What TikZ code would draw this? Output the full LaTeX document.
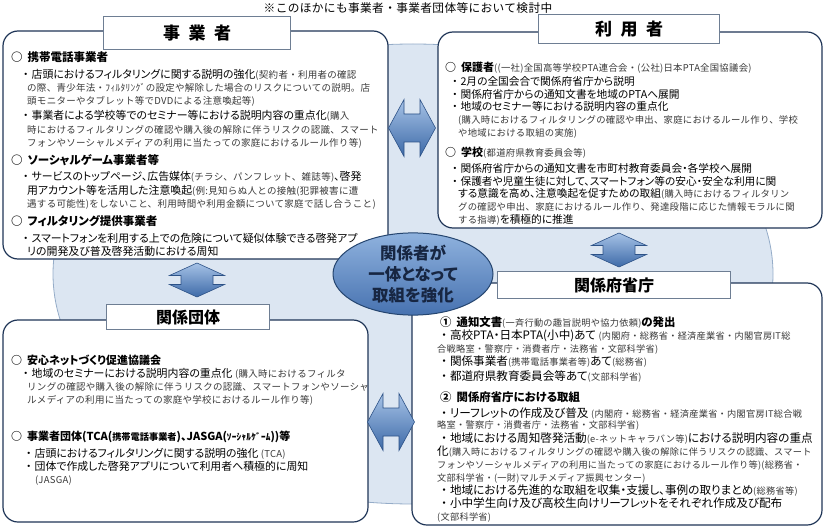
\documentclass[tikz,border=0pt]{standalone}
\usepackage{fontspec}
\setmainfont{Noto Sans CJK JP}[RawFeature=+palt]
\newfontfamily\plainjp{Noto Sans CJK JP}[LetterSpace=3]
\usepackage{xcolor}
\usepackage{tikz}
\usetikzlibrary{positioning, calc, shapes.geometric}

\definecolor{ringfill}{HTML}{DCE6F2}
\definecolor{ringedge}{HTML}{95ACC8}
\definecolor{boxedge}{HTML}{1F3557}
\definecolor{captionedge}{HTML}{6E7E93}
\definecolor{subtext}{HTML}{3A3A3A}
\definecolor{hubtop}{HTML}{8FB2DE}
\definecolor{hubbottom}{HTML}{4772B0}
\definecolor{hubedge}{HTML}{25456F}
\definecolor{hubtext}{HTML}{172642}
\definecolor{arrowhi}{HTML}{A6C2E6}
\definecolor{arrowlo}{HTML}{3D6AA8}
\definecolor{arrowedge}{HTML}{2D5287}

\newcommand{\hd}[1]{{\fontsize{\hdsize}{13}\selectfont\bfseries #1}}
\newcommand{\detail}[1]{{\plainjp\fontsize{\dsize}{13}\selectfont\color{subtext}#1}}
\newcommand{\bul}{\hspace*{\bulskip}・\hspace{3pt}}
\newcommand{\cont}{\hspace*{\contskip}}
\newcommand{\circitem}{\hd{○}\hspace{5pt}}

\begin{document}
\begin{tikzpicture}[
    x=1pt, y=-1pt,
    panel/.style={draw=boxedge, line width=1.2pt, fill=white, rounded corners=15pt, inner sep=0pt},
    caption/.style={draw=captionedge, line width=0.8pt, fill=white, inner sep=0pt, font=\bfseries\fontsize{17}{20}\selectfont},
    body/.style={anchor=north west, align=left, inner sep=0pt},
    hub/.style={ellipse, draw=hubedge, line width=1pt, top color=hubtop, bottom color=hubbottom,
      minimum width=160pt, minimum height=68pt, inner sep=0pt, align=center,
      text=hubtext, font=\bfseries\fontsize{16.5}{21}\selectfont},
    arrowbody/.style={draw=arrowedge, line width=0.6pt, top color=arrowhi, bottom color=arrowlo},
    lrarrow/.pic={\path[arrowbody] (-23.5,0) -- (-8,-28.5) -- (-8,-14) -- (8,-14) -- (8,-28.5)
      -- (23.5,0) -- (8,28.5) -- (8,14) -- (-8,14) -- (-8,28.5) -- cycle;},
    udarrow/.pic={\path[arrowbody] (0,-17) -- (27.5,-4.5) -- (16,-4.5) -- (16,4.5) -- (27.5,4.5)
      -- (0,17) -- (-27.5,4.5) -- (-16,4.5) -- (-16,-4.5) -- (-27.5,-4.5) -- cycle;}
  ]
  \useasboundingbox (0,0) rectangle (826,529);

  % background ring
  \draw[ringedge, fill=ringfill, line width=0.8pt] (413,274) ellipse [x radius=360pt, y radius=230pt];

  \node (note) at (408,8) {\plainjp\fontsize{11.7}{12}\selectfont ※このほかにも事業者・事業者団体等において検討中};

  % panels
  \node[panel, minimum width=385pt, minimum height=228pt] (jigyosha) at (195.5,145) {};
  \node[panel, minimum width=384pt, minimum height=196pt] (riyosha) at (630,130) {};
  \node[panel, minimum width=365pt, minimum height=202pt] (dantai) at (185.5,421) {};
  \node[panel, minimum width=410pt, minimum height=242pt] (fusho) at (617,404) {};

  % captions
  \node[caption, minimum width=187pt, minimum height=33pt] (jigyoshaTitle) at (197,33) {事\enspace 業\enspace 者};
  \node[caption, minimum width=181pt, minimum height=29pt] (riyoshaTitle) at (629,29) {利\enspace 用\enspace 者};
  \node[caption, minimum width=163pt, minimum height=25pt, font=\bfseries\fontsize{16}{20}\selectfont] (dantaiTitle) at (188,317) {関係団体};
  \node[caption, minimum width=233pt, minimum height=27pt, font=\bfseries\fontsize{16}{20}\selectfont] (fushoTitle) at (614,285) {関係府省庁};

  % 事業者
  \node[body, font={\fontsize{10.9}{13.3}\selectfont\def\dsize{9.5}\def\hdsize{11.5}\def\bulskip{12pt}\def\contskip{16pt}}] (jigyoshaText) at (11,51.5) {%
    \circitem\hd{携帯電話事業者}\\[3.5pt]
    \bul 店頭におけるフィルタリングに関する説明の強化\detail{(契約者・利用者の確認}\\
    \cont\detail{の際、青少年法・ﾌｨﾙﾀﾘﾝｸﾞの設定や解除した場合のリスクについての説明。店}\\
    \cont\detail{頭モニターやタブレット等でDVDによる注意喚起等)}\\[1.5pt]
    \bul 事業者による学校等でのセミナー等における説明内容の重点化\detail{(購入}\\
    \cont\detail{時におけるフィルタリングの確認や購入後の解除に伴うリスクの認識、スマート}\\
    \cont\detail{フォンやソーシャルメディアの利用に当たっての家庭におけるルール作り等)}\\[4.5pt]
    \circitem\hd{ソーシャルゲーム事業者等}\\[3.5pt]
    \bul サービスのトップページ、広告媒体\detail{(チラシ、パンフレット、雑誌等)}、啓発\\
    \cont 用アカウント等を活用した注意喚起\detail{(例:見知らぬ人との接触(犯罪被害に遭}\\
    \cont\detail{遇する可能性)をしないこと、利用時間や利用金額について家庭で話し合うこと)}\\[4.5pt]
    \circitem\hd{フィルタリング提供事業者}\\[3.5pt]
    \bul スマートフォンを利用する上での危険について疑似体験できる啓発アプ\\
    \cont リの開発及び普及啓発活動における周知};

  % 利用者
  \node[body, font={\fontsize{10.7}{12.7}\selectfont\def\dsize{9.35}\def\hdsize{11}\def\bulskip{7pt}\def\contskip{13pt}}] (riyoshaText) at (445,62) {%
    \circitem\hd{保護者}\detail{((一社)全国高等学校PTA連合会・(公社)日本PTA全国協議会)}\\[1pt]
    \bul 2月の全国会合で関係府省庁から説明\\
    \bul 関係府省庁からの通知文書を地域のPTAへ展開\\
    \bul 地域のセミナー等における説明内容の重点化\\
    \cont\detail{(購入時におけるフィルタリングの確認や申出、家庭におけるルール作り、学校}\\
    \cont\detail{や地域における取組の実施)}\\[8pt]
    \circitem\hd{学校}\detail{(都道府県教育委員会等)}\\[3pt]
    \bul 関係府省庁からの通知文書を市町村教育委員会・各学校へ展開\\
    \bul 保護者や児童生徒に対して、スマートフォン等の安心・安全な利用に関\\
    \cont する意識を高め、注意喚起を促すための取組\detail{(購入時におけるフィルタリン}\\
    \cont\detail{グの確認や申出、家庭におけるルール作り、発達段階に応じた情報モラルに関}\\
    \cont\detail{する指導)}を積極的に推進};

  % 関係団体
  \node[body, font={\fontsize{10.9}{13}\selectfont\def\dsize{9.5}\def\hdsize{11}\def\bulskip{12pt}\def\contskip{16pt}}] (dantaiText) at (11,354.5) {%
    \circitem\hd{安心ネットづくり促進協議会}\\
    \bul 地域のセミナーにおける説明内容の重点化 \detail{(購入時におけるフィルタ}\\
    \cont\detail{リングの確認や購入後の解除に伴うリスクの認識、スマートフォンやソーシャ}\\
    \cont\detail{ルメディアの利用に当たっての家庭や学校におけるルール作り等)}\\[24pt]
    \circitem\hd{事業者団体(TCA({\fontsize{9.2}{10}\selectfont 携帯電話事業者})、JASGA({\plainjp\fontsize{9.2}{10}\selectfont ｿｰｼｬﾙｹﾞｰﾑ}))等}\\[4pt]
    \hspace*{3pt}\bul 店頭におけるフィルタリングに関する説明の強化 \detail{(TCA)}\\
    \hspace*{3pt}\bul 団体で作成した啓発アプリについて利用者へ積極的に周知\\
    \hspace*{8pt}\cont\detail{(JASGA)}};

  % 関係府省庁
  \node[body, font={\fontsize{11.6}{13}\selectfont\def\dsize{9.2}\def\hdsize{11.4}\def\bulskip{4pt}\def\contskip{0pt}}] (fushoText) at (437,316.5) {%
    \hspace*{3pt}\hd{①}\hspace{5pt}\hd{通知文書}\detail{(一斉行動の趣旨説明や協力依頼)}\hd{の発出}\\
    \bul 高校PTA・日本PTA(小中)あて \detail{(内閣府・総務省・経済産業省・内閣官房IT総}\\
    \cont\detail{合戦略室・警察庁・消費者庁・法務省・文部科学省)}\\
    \bul 関係事業者\detail{(携帯電話事業者等)}あて\detail{(総務省)}\\[2pt]
    \bul 都道府県教育委員会等あて\detail{(文部科学省)}\\[8pt]
    \hspace*{3pt}\hd{②}\hspace{5pt}\hd{関係府省庁における取組}\\[3pt]
    \bul リーフレットの作成及び普及 \detail{(内閣府・総務省・経済産業省・内閣官房IT総合戦}\\[-2pt]
    \cont\detail{略室・警察庁・消費者庁・法務省・文部科学省)}\\[1pt]
    \bul 地域における周知啓発活動\detail{(e-ネットキャラバン等)}における説明内容の重点\\
    \cont 化\detail{(購入時におけるフィルタリングの確認や購入後の解除に伴うリスクの認識、スマート}\\
    \cont\detail{フォンやソーシャルメディアの利用に当たっての家庭におけるルール作り等)(総務省・}\\
    \cont\detail{文部科学省・(一財)マルチメディア振興センター)}\\
    \bul 地域における先進的な取組を収集・支援し、事例の取りまとめ\detail{(総務省等)}\\
    \bul 小中学生向け及び高校生向けリーフレットをそれぞれ作成及び配布\\
    \cont\detail{(文部科学省)}};

  % arrows between the panels
  \pic at (412,128) {lrarrow};
  \pic at (197,280) {udarrow};
  \pic at (619,250) {udarrow};
  \pic at (391,422) {lrarrow};

  % centre
  \node[hub] (hub) at (413,274) {関係者が\\一体となって\\取組を強化};
\end{tikzpicture}
\end{document}
